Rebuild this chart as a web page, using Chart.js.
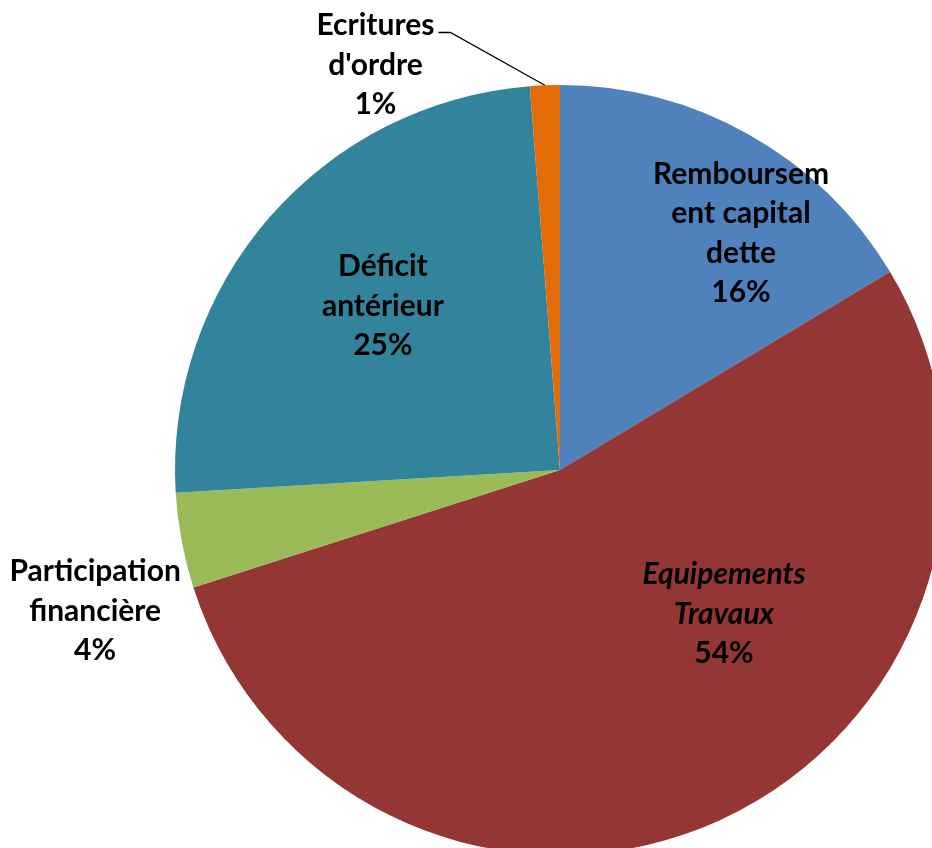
<!DOCTYPE html>
<html>
<head>
<meta charset="utf-8">
<script src="https://cdn.jsdelivr.net/npm/chart.js@4/dist/chart.umd.min.js"></script>
<style>
  body { margin: 0; background: #fff; }
  #wrap { width: 932px; height: 848px; overflow: hidden; position: relative; }
  #chart { position: absolute; left: 0; top: 0; }
</style>
</head>
<body>
<div id="wrap"><canvas id="chart" width="1120" height="940"></canvas></div>
<script>
// Data (shares in %)
const categories = ['Remboursement capital dette', 'Equipements Travaux', 'Participation financière', 'Déficit antérieur', "Ecritures d'ordre"];
const values = [16.4, 53.7, 4.0, 24.7, 1.25];
const percentLabels = ['16%', '54%', '4%', '25%', '1%'];
const labelLines = [
    ['Remboursem', 'ent capital', 'dette'],
    ['Equipements', 'Travaux'],
    ['Participation', 'financière'],
    ['Déficit', 'antérieur'],
    ['Ecritures', "d'ordre"]
];
const colors = ['#4F81BD', '#943634', '#9BBB59', '#31849B', '#E36C09'];

// where each label sits: angle clockwise from top (deg), distance as fraction of radius
const labelSpots = [[37.4, 0.774], [131.3, 0.567], [253.1, 1.262], [312.8, 0.627], [335.5, 1.156]];
const italicNames = [false, true, false, false, false];
const leaderLine = [false, false, false, false, true];

const FONT = 'Lato, "Open Sans", sans-serif';
const FONT_SIZE = 30;
const LINE_H = 39.5;

// Draw labels on / next to the slices
const pieLabels = {
    id: 'pieLabels',
    afterDatasetsDraw(chart) {
        const ctx = chart.ctx;
        const arcs = chart.getDatasetMeta(0).data;
        ctx.save();
        ctx.fillStyle = '#000';
        ctx.textAlign = 'center';
        ctx.textBaseline = 'middle';
        arcs.forEach((arc, i) => {
            const a = labelSpots[i][0] * Math.PI / 180;
            const r = arc.outerRadius * labelSpots[i][1];
            const cx = arc.x + r * Math.sin(a);
            const cy = arc.y - r * Math.cos(a);
            const lines = labelLines[i].concat([percentLabels[i]]);
            const top = cy - (lines.length - 1) * LINE_H / 2;
            lines.forEach((txt, j) => {
                const italic = italicNames[i] && j < lines.length - 1;
                ctx.font = (italic ? 'italic ' : '') + 'bold ' + FONT_SIZE + 'px ' + FONT;
                ctx.fillText(txt, cx, top + j * LINE_H);
            });
            if (leaderLine[i]) {
                ctx.font = 'bold ' + FONT_SIZE + 'px ' + FONT;
                const w = ctx.measureText(labelLines[i][0]).width;
                const sx = cx + w / 2 + 4;
                const sy = top + 7;
                const mid = (arc.startAngle + arc.endAngle) / 2;
                const ex = arc.x + arc.outerRadius * Math.cos(mid);
                const ey = arc.y + arc.outerRadius * Math.sin(mid);
                ctx.strokeStyle = '#000';
                ctx.lineWidth = 1.3;
                ctx.beginPath();
                ctx.moveTo(sx, sy);
                ctx.lineTo(sx + 12, sy);
                ctx.lineTo(ex, ey);
                ctx.stroke();
            }
        });
        ctx.restore();
    }
};

new Chart(document.getElementById('chart'), {
    type: 'pie',
    data: {
        labels: categories,
        datasets: [{
            data: values,
            backgroundColor: colors,
            borderWidth: 0,
            radius: 385
        }]
    },
    options: {
        responsive: false,
        animation: false,
        layout: { padding: 0 },
        plugins: {
            legend: { display: false },
            tooltip: { enabled: false }
        }
    },
    plugins: [pieLabels]
});
</script>
</body>
</html>
